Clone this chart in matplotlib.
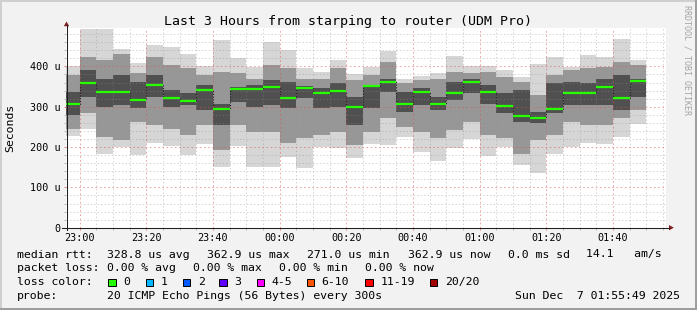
import numpy as np
import pandas as pd
import matplotlib
matplotlib.use("Agg")
import matplotlib.pyplot as plt
import matplotlib.dates as mdates
from matplotlib.patches import Rectangle, Polygon
from matplotlib.ticker import FuncFormatter, MultipleLocator

W, H = 697, 310
FONT = "DejaVu Sans Mono"

# end time of every 5 minute bucket (the first one is cut by the left edge)
bar_end = pd.date_range("2025-12-06 23:00", periods=35, freq="5min")
t_start = pd.Timestamp("2025-12-06 22:55:49")
t_stop = pd.Timestamp("2025-12-07 01:55:49")

# smoke per bucket in microseconds: min/max, outer band, dark core, median
hi  = [402, 494, 494, 443, 408, 453, 448, 431, 402, 465, 422, 399, 460, 441, 397, 387, 416, 380,
       399, 439, 369, 376, 383, 426, 401, 401, 391, 374, 406, 423, 399, 428, 424, 468, 416]
q4  = [379, 424, 416, 432, 383, 424, 403, 395, 379, 387, 383, 370, 403, 395, 370, 370, 395, 366,
       379, 412, 358, 366, 370, 387, 383, 387, 374, 362, 329, 379, 391, 395, 399, 412, 403]
q3  = [337, 391, 370, 379, 362, 379, 341, 333, 354, 308, 350, 354, 366, 362, 352, 346, 358, 325,
       355, 370, 337, 346, 325, 362, 370, 354, 333, 341, 288, 358, 362, 358, 370, 379, 370]
med = [307, 359, 337, 337, 317, 354, 322, 314, 342, 294, 345, 345, 349, 322, 347, 334, 339, 300,
       352, 361, 307, 337, 307, 335, 362.5, 337, 302.5, 277, 271.0, 294, 335, 335, 349, 322, 362.9]
q2  = [280, 325, 300, 304, 296, 325, 300, 304, 292, 255, 312, 300, 304, 296, 321, 296, 300, 255,
       296, 337, 288, 304, 292, 317, 333, 308, 284, 263, 259, 284, 304, 304, 304, 292, 325]
q1  = [246, 284, 226, 218, 263, 255, 246, 230, 255, 193, 255, 238, 238, 209, 222, 230, 238, 205,
       238, 271, 250, 238, 222, 242, 263, 230, 222, 184, 217, 230, 263, 255, 255, 271, 292]
lo  = [227, 245, 184, 201, 180, 211, 203, 180, 207, 151, 203, 151, 151, 176, 147, 201, 198, 172,
       207, 205, 226, 188, 165, 198, 220, 178, 199, 155, 136, 183, 199, 211, 207, 226, 257]

# legend content
rtt_stats = ["328.8 us avg", "362.9 us max", "271.0 us min", "362.9 us now", "0.0 ms sd"]
loss_stats = ["0.00 % avg", "0.00 % max", "0.00 % min", "0.00 % now"]
loss_labels = ["0", "1", "2", "3", "4-5", "6-10", "11-19", "20/20"]
loss_colors = ["#26ff00", "#00b8ff", "#0059ff", "#5e00ff", "#ff00ff", "#ff5500", "#ff0000", "#a00000"]

fig = plt.figure(figsize=(W / 100, H / 100), dpi=100, facecolor="#f2f2f2")
x0, x1, y0, y1 = 65.6, 665.6, 27.7, 227.7
ax = fig.add_axes([x0 / W, 1 - y1 / H, (x1 - x0) / W, (y1 - y0) / H])
ax.set_facecolor("white")

ends = mdates.date2num(bar_end.to_pydatetime())
step = 5 / 1440
starts = ends - step
lo, q1, q2, med, q3, q4, hi = map(np.array, (lo, q1, q2, med, q3, q4, hi))

# smoke layers, lightest outside, darkest around the median
ax.bar(starts, hi - lo, bottom=lo, width=step, align="edge", color="#d6d6d6", lw=0, zorder=1)
ax.bar(starts, q4 - q1, bottom=q1, width=step, align="edge", color="#979797", lw=0, zorder=1.1)
ax.bar(starts, q3 - q2, bottom=q2, width=step, align="edge", color="#505050", lw=0, zorder=1.2)

# median: dark step line, green (0 loss) on the flat parts
ax.stairs(med, np.append(starts, ends[-1]), baseline=None, color="#202020",
          linestyle=(0, (1, 1.5)), lw=0.8, zorder=3)
ax.hlines(med, starts, ends, color=loss_colors[0], lw=1.6, zorder=4)

ax.set_xlim(mdates.date2num(t_start), mdates.date2num(t_stop))
ax.set_ylim(0, 496)
ax.xaxis.set_major_locator(mdates.MinuteLocator(byminute=[0, 20, 40]))
ax.xaxis.set_minor_locator(mdates.MinuteLocator(byminute=range(0, 60, 5)))
ax.xaxis.set_major_formatter(mdates.DateFormatter("%H:%M"))
ax.yaxis.set_major_locator(MultipleLocator(100))
ax.yaxis.set_minor_locator(MultipleLocator(20))
ax.yaxis.set_major_formatter(FuncFormatter(lambda v, p: "0" if v == 0 else "%d u" % v))

ax.set_axisbelow(False)
ax.grid(which="minor", color="#8f8f8f", alpha=0.55, lw=0.5, linestyle=(0, (2, 3)))
ax.grid(which="major", color="#de5050", alpha=0.6, lw=0.6, linestyle=(0, (2, 3)))
ax.tick_params(which="both", direction="out", length=1.5, width=0.6, labelsize=7.3)
ax.tick_params(which="major", color="#e07070", pad=2.4)
ax.tick_params(which="minor", color="#b0b0b0")
for lab in ax.get_xticklabels() + ax.get_yticklabels():
    lab.set_fontfamily(FONT)
for s in ax.spines.values():
    s.set_visible(False)

# overlay in pixel units for the rrdtool furniture
ov = fig.add_axes([0, 0, 1, 1], facecolor="none")
ov.set_xlim(0, W)
ov.set_ylim(H, 0)
ov.axis("off")

ov.plot([66.5, 66.5], [230, 25], color="#1f1f1f", lw=0.75)
ov.plot([62, 669], [227.7, 227.7], color="#1f1f1f", lw=0.75)
ov.add_patch(Polygon([(63.8, 26.2), (69.2, 26.2), (66.5, 21.5)], color="#801f1f", lw=0))
ov.add_patch(Polygon([(669, 225), (669, 230.4), (673.8, 227.7)], color="#801f1f", lw=0))

ov.text(348.5, 24.5, "Last 3 Hours from starping to router (UDM Pro)", family=FONT,
        fontsize=9.5, ha="center", va="baseline")
ov.text(10.5, 127.7, "Seconds", family=FONT, fontsize=8.25, rotation=90,
        ha="center", va="center")
ov.text(686.5, 5, "RRDTOOL / TOBI OETIKER", family=FONT, fontsize=6, rotation=-90,
        ha="center", va="top", color="#a4a4a4")

lg = dict(family=FONT, fontsize=8.25, va="baseline")
ov.text(16.7, 257.5, "median rtt:", **lg)
for x, s in zip([107.3, 207.3, 307.3, 407.7, 507.7], rtt_stats):
    ov.text(x, 257.5, s, **lg)
ov.text(586.3, 257.5, "14.1   am/s", **lg)

ov.text(16.7, 271.4, "packet loss:", **lg)
for x, s in zip([107.3, 193.3, 279.3, 365.3], loss_stats):
    ov.text(x, 271.4, s, **lg)

ov.text(16.7, 285.3, "loss color:", **lg)
box_x = [108.3, 145.7, 182.7, 219.3, 256.7, 306.7, 365.3, 429.7]
for bx, lab, c in zip(box_x, loss_labels, loss_colors):
    ov.add_patch(Rectangle((bx, 278.5), 7.2, 7.6, facecolor=c, edgecolor="black", lw=0.7))
    ov.text(bx + 15, 285.3, lab, **lg)

ov.text(16.7, 299.2, "probe:", **lg)
ov.text(107.3, 299.2, "20 ICMP Echo Pings (56 Bytes) every 300s", **lg)
ov.text(680, 299.2, "Sun Dec  7 01:55:49 2025", ha="right", **lg)

# shaded frame
ov.add_patch(Rectangle((0, 0), W, 2, color="#cfcfcf", lw=0))
ov.add_patch(Rectangle((0, 0), 2, H, color="#cfcfcf", lw=0))
ov.add_patch(Rectangle((0, H - 2), W, 2, color="#9e9e9e", lw=0))
ov.add_patch(Rectangle((W - 2, 0), 2, H, color="#9e9e9e", lw=0))

fig.savefig("out.png", dpi=100, facecolor=fig.get_facecolor())
